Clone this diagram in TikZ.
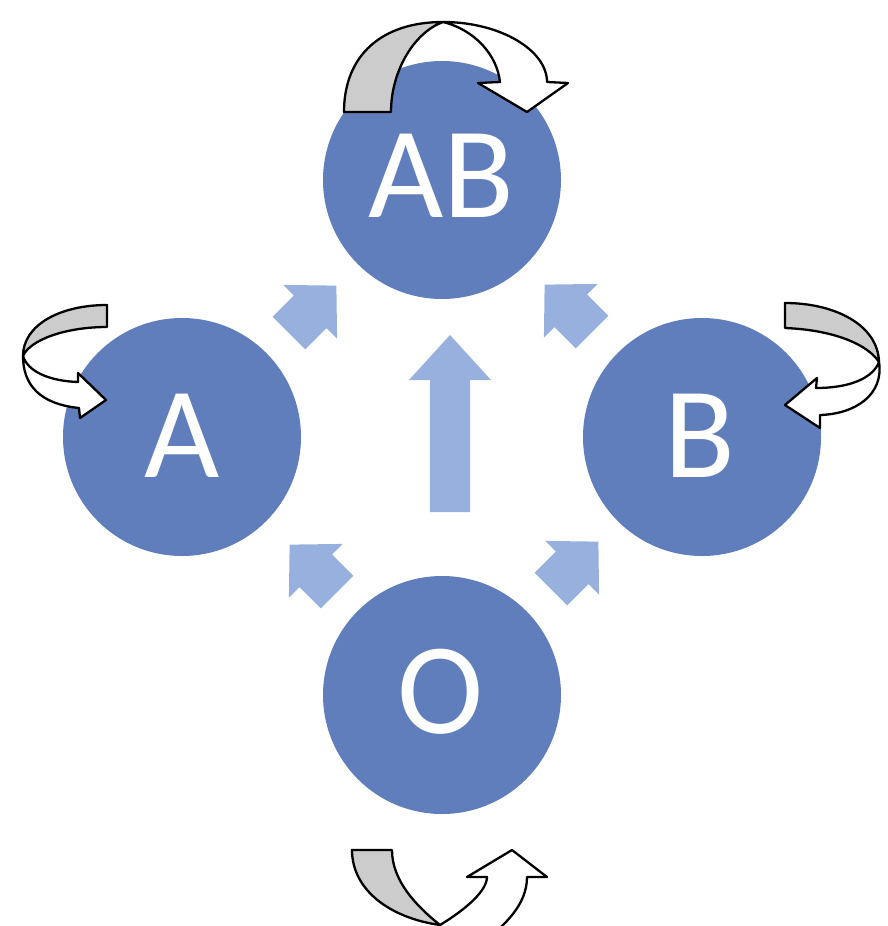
\documentclass[tikz,border=0pt]{standalone}
\usepackage{fontspec}
\setmainfont{Carlito}
\definecolor{stateblue}{RGB}{96,126,187}
\definecolor{flowblue}{RGB}{152,176,221}
\definecolor{ribbongray}{RGB}{204,204,204}
\tikzset{
  state/.style={circle, fill=stateblue, draw=none, minimum size=238pt, inner sep=0pt},
  statelabel/.style={text=white, inner sep=0pt, anchor=base, font=\fontsize{130}{130}\selectfont},
  flow/.style={fill=flowblue, draw=none},
  ribbonback/.style={fill=ribbongray, draw=black, line width=2.3pt, line join=round},
  ribbonfront/.style={fill=white, draw=black, line width=2.3pt, line join=round},
}
% block arrow with its tail centre at the origin, pointing along +x
\newcommand{\smallflow}{(0,-23) -- (30,-23) -- (30,-38) -- (67,0) -- (30,38) -- (30,23) -- (0,23) -- cycle}
\begin{document}
\begin{tikzpicture}[x=1pt, y=-1pt]
\path[use as bounding box] (0,0) rectangle (888,926);
\clip (0,0) rectangle (888,926);

% states
\node[state] (AB) at (442,180) {};
\node[state] (A)  at (182,437) {};
\node[state] (B)  at (702,437) {};
\node[state] (O)  at (442,695) {};
\node[statelabel] (lAB) at (441,217) {AB};
\node[statelabel] (lA)  at (182,477) {A};
\node[statelabel] (lB)  at (700,477) {B};
\node[statelabel] (lO)  at (441,733) {O};

% transitions between the states
\fill[flow] (430,512) -- (430,380) -- (409,380) -- (450,335) -- (491,380) -- (470,380) -- (470,512) -- cycle;
\begin{scope}[shift={(289,333)}, rotate=45]  \fill[flow] \smallflow; \end{scope}
\begin{scope}[shift={(592,332)}, rotate=135] \fill[flow] \smallflow; \end{scope}
\begin{scope}[shift={(337,592)}, rotate=135] \fill[flow] \smallflow; \end{scope}
\begin{scope}[shift={(551,589)}, rotate=45]  \fill[flow] \smallflow; \end{scope}

% self-loop above AB
\draw[ribbonback] (344,112) .. controls (344,55) and (382,22) .. (443,22)
  .. controls (415,32) and (391,70) .. (391,112) -- cycle;
\draw[ribbonfront] (443,22) .. controls (500,22) and (547,50) .. (547,82)
  -- (568,83) -- (527,112) -- (478,83) -- (500,82)
  .. controls (497,55) and (475,30) .. (443,22) -- cycle;

% self-loop beside A
\draw[ribbonback] (107,305) .. controls (60,305) and (23,325) .. (23,356)
  .. controls (30,340) and (65,327) .. (107,327) -- cycle;
\draw[ribbonfront] (23,356) .. controls (28,372) and (50,381) .. (78,382)
  -- (78,373) -- (106,400) -- (80,418) -- (79,408)
  .. controls (40,404) and (23,385) .. (23,356) -- cycle;

% self-loop beside B
\draw[ribbonback] (785,303) .. controls (835,303) and (878,325) .. (879,362)
  .. controls (868,345) and (835,330) .. (785,328) -- cycle;
\draw[ribbonfront] (879,362) .. controls (884,395) and (855,414) .. (820,415)
  -- (820,428) -- (785,405) -- (817,378) -- (816,388)
  .. controls (850,388) and (873,378) .. (879,362) -- cycle;

% self-loop below O
\draw[ribbonback] (352,850) .. controls (352,890) and (390,918) .. (440,925)
  .. controls (415,905) and (392,880) .. (392,850) -- cycle;
\draw[ribbonfront] (440,925) .. controls (468,908) and (487,890) .. (487,877)
  -- (467,877) -- (512,850) -- (547,877) -- (527,877)
  .. controls (527,905) and (505,925) .. (480,945) -- (440,945) -- cycle;
\end{tikzpicture}
\end{document}
